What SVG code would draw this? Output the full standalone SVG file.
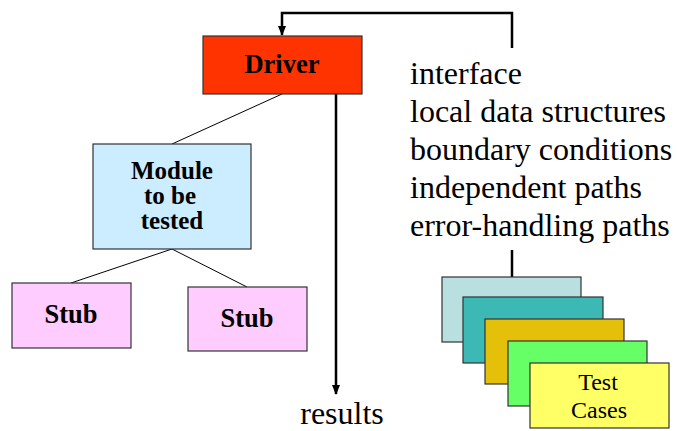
<svg xmlns="http://www.w3.org/2000/svg" width="677" height="431" viewBox="0 0 677 431">
  <defs>
    <marker id="arrow" markerWidth="10" markerHeight="10" refX="9" refY="5" orient="auto" markerUnits="userSpaceOnUse">
      <path d="M0,1 L10,5 L0,9 Z" fill="#000"/>
    </marker>
    <style>
      .box { stroke: #333; stroke-width: 1.2; }
      .bold { font-family: "Liberation Serif", "Times New Roman", serif; font-weight: bold; font-size: 26.5px; fill: #000; text-anchor: middle; }
      .tight { font-size: 25px; }
      .plain { font-family: "Liberation Serif", "Times New Roman", serif; font-size: 32px; fill: #000; }
      .small { font-family: "Liberation Serif", "Times New Roman", serif; font-size: 24px; fill: #000; text-anchor: middle; }
      .thin { stroke: #000; stroke-width: 1; fill: none; }
      .thick { stroke: #000; stroke-width: 2.5; fill: none; }
    </style>
  </defs>
  <rect width="677" height="431" fill="#fff"/>

  <!-- connectors -->
  <g id="connectors">
    <line class="thin" x1="282" y1="94" x2="172" y2="144"/>
    <line class="thin" x1="172" y1="249" x2="71" y2="283"/>
    <line class="thin" x1="172" y1="249" x2="247" y2="287"/>
    <polyline class="thick" points="512,48 512,13 282,13 282,35" marker-end="url(#arrow)"/>
    <line class="thick" x1="336" y1="94" x2="336" y2="394" marker-end="url(#arrow)"/>
    <line class="thick" x1="512" y1="250" x2="512" y2="277"/>
  </g>

  <g id="driver">
    <rect class="box" x="203" y="36" width="159" height="58" fill="#FF3300"/>
    <text class="bold" x="282" y="73">Driver</text>
  </g>

  <g id="module">
    <rect class="box" x="93" y="144" width="158" height="105" fill="#CCECFF"/>
    <text class="bold tight" x="172" y="179">Module</text>
    <text class="bold tight" x="170" y="204">to be</text>
    <text class="bold tight" x="172" y="229">tested</text>
  </g>

  <g id="stub-left">
    <rect class="box" x="12" y="283" width="119" height="65" fill="#FFCCFF"/>
    <text class="bold" x="71" y="323">Stub</text>
  </g>

  <g id="stub-right">
    <rect class="box" x="188" y="287" width="119" height="64" fill="#FFCCFF"/>
    <text class="bold" x="247" y="327">Stub</text>
  </g>

  <g id="results">
    <text class="plain" x="342" y="424" text-anchor="middle">results</text>
  </g>

  <g id="aspects">
    <text class="plain" x="410" y="84">interface</text>
    <text class="plain" x="410" y="122">local data structures</text>
    <text class="plain" x="410" y="160">boundary conditions</text>
    <text class="plain" x="410" y="198">independent paths</text>
    <text class="plain" x="410" y="236">error-handling paths</text>
  </g>

  <g id="test-cases">
    <rect class="box" x="442" y="277" width="139" height="65" fill="#B9DFE1"/>
    <rect class="box" x="463" y="297" width="140" height="66" fill="#3DB9B5"/>
    <rect class="box" x="485" y="319" width="139" height="65" fill="#E5C00A"/>
    <rect class="box" x="508" y="341" width="139" height="65" fill="#66FF66"/>
    <rect class="box" x="530" y="363" width="139" height="65" fill="#FFFF66"/>
    <text class="small" x="598" y="390">Test</text>
    <text class="small" x="599" y="418">Cases</text>
  </g>
</svg>
